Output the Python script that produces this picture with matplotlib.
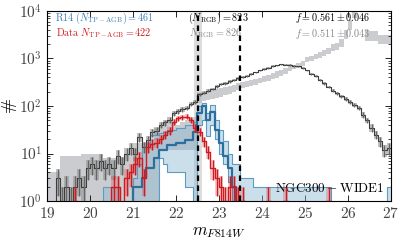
import numpy as np
import matplotlib
matplotlib.use('Agg')
from matplotlib import pyplot as plt

plt.rcParams['mathtext.fontset'] = 'cm'
plt.rcParams['font.family'] = 'serif'
plt.rcParams['font.serif'] = ['cmr10', 'DejaVu Serif']
plt.rcParams['axes.formatter.use_mathtext'] = True
plt.rcParams['axes.unicode_minus'] = False

# 0.1 mag bins from 19 to 27
edges = np.round(np.arange(19.0, 27.01, 0.1), 2)
centers = edges[:-1] + 0.05

# observed luminosity function (all stars)
data_all = np.array([
    0, 0, 3, 1, 2, 1, 2, 3, 2, 5,
    6, 5, 7, 5, 6, 5, 9, 6, 10, 13,
    10, 22, 14, 19, 28, 30, 40, 45, 52, 70,
    78, 85, 92, 110, 120, 175, 190, 210, 230, 260,
    290, 300, 330, 360, 380, 400, 430, 470, 510, 560,
    600, 640, 700, 720, 750, 740, 730, 700, 680, 640,
    560, 480, 420, 360, 300, 250, 210, 185, 160, 140,
    120, 105, 90, 65, 50, 35, 25, 18, 12, 13], dtype=float)

# model luminosity function, spread over realisations
model_hi = np.array([
    4, 4, 4, 9, 9, 9, 9, 9, 10, 10,
    10, 10, 10, 8, 8, 8, 8, 8, 10, 10,
    17, 17, 17, 17, 17, 35, 40, 45, 50, 45,
    40, 45, 50, 55, 60, 200, 200, 209, 214, 224,
    234, 251, 263, 282, 302, 316, 331, 347, 363, 398,
    427, 457, 501, 537, 575, 631, 692, 741, 794, 891,
    1072, 1148, 1259, 1380, 1514, 1660, 1995, 2089, 2630, 3981,
    6310, 12590, 19950, 19950, 3981, 3802, 3802, 3162, 3162, 3162], dtype=float)
model_lo = np.array([
    0, 0, 0, 0, 0, 0, 0, 0, 0, 0,
    0, 0, 0, 0, 0, 0, 0, 0, 0, 0,
    0, 0, 0, 0, 0, 0, 12, 12, 12, 12,
    12, 12, 12, 12, 12, 117, 126, 132, 138, 148,
    158, 170, 178, 200, 219, 234, 251, 269, 282, 302,
    316, 339, 372, 398, 437, 479, 537, 589, 631, 708,
    832, 891, 955, 1047, 1148, 1259, 1413, 1479, 1778, 2630,
    3981, 7079, 10000, 10000, 2291, 2291, 2291, 1995, 1995, 1995], dtype=float)

# observed TP-AGB stars
data_agb = np.array([
    0, 0, 0, 0, 0, 0, 1, 0, 0, 0,
    0, 0, 0, 0, 0, 2, 2, 0, 3, 4,
    6, 8, 3, 14, 16, 17, 20, 25, 30, 47,
    55, 58, 60, 52, 35, 29, 18, 11, 5, 3,
    2, 1, 2, 2, 1, 1, 0, 0, 0, 0,
    0, 1, 0, 0, 0, 1, 0, 0, 0, 0,
    0, 0, 0, 0, 0, 1, 0, 0, 0, 0,
    0, 0, 0, 0, 0, 0, 0, 0, 0, 0], dtype=float)

# model TP-AGB stars (median and spread)
model_agb = np.array([
    0, 0, 0, 0, 0, 0, 0, 0, 0, 0,
    0, 0, 0, 0, 0, 0, 0, 0, 0, 0,
    2, 2, 3, 5, 5, 8, 12, 12, 15, 15,
    17, 17, 19, 19, 29, 72, 98, 51, 75, 32,
    17, 9, 5, 2, 0, 0, 0, 0, 0, 0,
    0, 0, 0, 0, 0, 0, 0, 0, 0, 0,
    0, 0, 0, 0, 0, 0, 0, 0, 0, 0,
    0, 0, 0, 0, 0, 0, 0, 0, 0, 0], dtype=float)
model_agb_hi = np.array([
    0, 0, 0, 0, 0, 0, 0, 0, 0, 0,
    0, 0, 0, 2, 2, 2, 2, 0, 0, 0,
    3, 6, 14, 14, 25, 25, 27, 28, 32, 32,
    35, 35, 40, 40, 47, 100, 118, 72, 107, 51,
    32, 18, 10, 6, 6, 3, 3, 3, 2, 2,
    2, 2, 2, 2, 2, 2, 2, 2, 2, 2,
    2, 2, 2, 2, 2, 2, 0, 0, 0, 0,
    0, 0, 0, 0, 0, 0, 0, 0, 0, 2], dtype=float)
model_agb_lo = np.array([
    0, 0, 0, 0, 0, 0, 0, 0, 0, 0,
    0, 0, 0, 0, 0, 0, 0, 0, 0, 0,
    0, 0, 0, 0, 0, 0, 8, 6, 4, 4,
    4, 4, 2, 2, 0, 40, 50, 23, 40, 20,
    10, 6, 2.5, 0, 0, 0, 0, 0, 0, 0,
    0, 0, 0, 0, 0, 0, 0, 0, 0, 0,
    0, 0, 0, 0, 0, 0, 0, 0, 0, 0,
    0, 0, 0, 0, 0, 0, 0, 0, 0, 0], dtype=float)

trgb = 22.52
rgb_lim = 23.5


def st(v):
    return np.append(v, v[-1])


blue = '#2a6f9e'
red = '#d11a1f'
dark = '#3d3d3d'

fig = plt.figure(figsize=(4.07, 2.44), dpi=100)
ax = fig.add_axes([0.1155, 0.176, 0.845, 0.779])
ax.set_yscale('log')

ax.axvspan(22.42, 22.6, color='#dcdcdc', lw=0, zorder=0)

# model full LF
ax.fill_between(edges, st(model_lo), st(model_hi), step='post',
                color='#b9bcbf', alpha=0.75, lw=0, zorder=1)

# model TP-AGB
ax.fill_between(edges, st(model_agb_lo), st(model_agb_hi), step='post',
                color='#8db8d3', alpha=0.45, lw=0, zorder=2)
ax.step(edges, st(model_agb_hi), where='post', color='#5b9bc4', lw=0.8, zorder=2)
ax.step(edges, st(model_agb_lo), where='post', color='#5b9bc4', lw=0.8, zorder=2)
ax.step(edges, st(model_agb), where='post', color=blue, lw=1.6, zorder=3)

# data full LF
err = np.sqrt(data_all)
ax.fill_between(edges, st(data_all - err), st(data_all + err), step='post',
                color='#909090', alpha=0.55, lw=0, zorder=3)
ax.step(edges, st(data_all), where='post', color=dark, lw=0.8, zorder=4)
ax.errorbar(centers, data_all, yerr=err, fmt='none', ecolor='#666666',
            elinewidth=0.9, zorder=4)

# data TP-AGB
err_agb = np.sqrt(data_agb)
ax.fill_between(edges, st(data_agb - err_agb), st(data_agb + err_agb), step='post',
                color=red, alpha=0.22, lw=0, zorder=5)
ax.step(edges, st(data_agb), where='post', color=red, lw=1.0, zorder=6)
ax.errorbar(centers, data_agb, yerr=err_agb, fmt='none', ecolor=red,
            elinewidth=1.0, zorder=6)

ax.axvline(trgb, color='k', ls=(0, (2.5, 2)), lw=1.6, zorder=7)
ax.axvline(rgb_lim, color='k', ls=(0, (2.5, 2)), lw=1.6, zorder=7)

ax.set_xlim(19, 27)
ax.set_ylim(1, 1e4)
ax.set_xticks(range(19, 28))
ax.set_xticklabels([f'${t}$' for t in range(19, 28)])
ax.set_yticks([1, 10, 100, 1000, 10000])
ax.set_yticklabels([r'$10^{0}$', r'$10^{1}$', r'$10^{2}$', r'$10^{3}$', r'$10^{4}$'])
ax.tick_params(which='both', direction='in', top=True, right=True, labelsize=11,
               labelcolor='#444444')
ax.tick_params(which='major', length=4, width=0.6)
ax.tick_params(which='minor', length=2, width=0.5)
for s in ax.spines.values():
    s.set_linewidth(0.8)

ax.set_xlabel(r'$m_{F814W}$', fontsize=12, labelpad=3)
ax.set_ylabel(r'$\#$', fontsize=13, labelpad=0, rotation=90)

fs = 7.3
y1, y2 = 1.0, 0.918
ax.text(0.166, y1, r'$\mathrm{R14}\ (N_{\rm TP-AGB}) = 461$',
        transform=ax.transAxes, ha='center', va='top', color='#3b7fb5', fontsize=fs)
ax.text(0.166, y2, r'$\mathrm{Data}\ N_{\rm TP-AGB} = 422$',
        transform=ax.transAxes, ha='center', va='top', color=red, fontsize=fs)
ax.text(0.497, y1, r'$(N_{\rm RGB}) = 823$',
        transform=ax.transAxes, ha='center', va='top', color='k', fontsize=fs)
ax.text(0.49, y2, r'$N_{\rm RGB} = 826$',
        transform=ax.transAxes, ha='center', va='top', color='#888888', fontsize=fs)
ax.text(0.832, y1, r'$f = 0.561 \pm 0.046$',
        transform=ax.transAxes, ha='center', va='top', color='k', fontsize=fs)
ax.text(0.832, y2, r'$f = 0.511 \pm 0.043$',
        transform=ax.transAxes, ha='center', va='top', color='#888888', fontsize=fs)
ax.text(0.98, 0.068, r'$\mathrm{NGC300-WIDE1}$',
        transform=ax.transAxes, ha='right', va='center', color='k', fontsize=9.5)

fig.savefig('out.png', dpi=100)
